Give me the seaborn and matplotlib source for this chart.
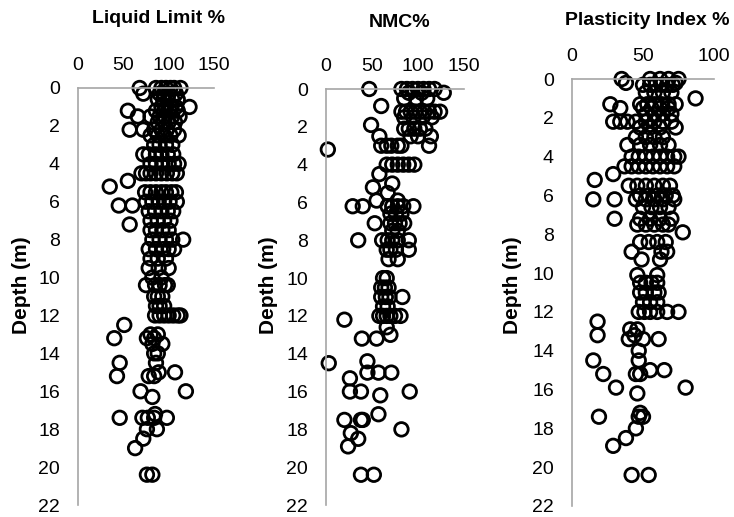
import matplotlib
matplotlib.use("Agg")
import matplotlib.pyplot as plt
import pandas as pd
import seaborn as sns

# depth levels (m) and the values read at each level
ll_depth = [0.0, 0.3, 0.6, 1.0, 1.2, 1.5, 1.8, 2.2, 2.5, 3.0, 3.5, 4.0, 4.5, 4.9,
            5.2, 5.5, 6.0, 6.2, 6.5, 7.0, 7.2, 7.5, 8.0, 8.5, 9.0, 9.5, 10.0, 10.4,
            11.0, 11.5, 12.0, 12.5, 13.0, 13.2, 13.5, 14.0, 14.5, 15.0, 15.2, 16.0,
            16.3, 17.2, 17.4, 18.0, 18.5, 19.0, 20.4]
ll_values = [[68, 86, 92, 97, 102, 106, 113], [72, 90, 95, 100, 108],
             [88, 94, 99, 104, 110], [92, 97, 103, 108, 123], [55, 86, 95, 101, 110],
             [66, 80, 90, 96, 104, 112], [88, 95, 100, 107], [57, 72, 84, 92, 98, 106],
             [80, 88, 95, 102, 111], [84, 90, 97, 104], [72, 78, 86, 92, 99, 105],
             [80, 86, 93, 100, 106, 111], [70, 75, 80, 86, 92, 98, 104, 109], [55],
             [35], [74, 80, 86, 92, 97, 103, 108], [75, 82, 89, 95, 101, 109], [45, 60],
             [78, 85, 92, 99, 105], [80, 88, 95, 102], [57], [80, 86, 93, 100],
             [82, 90, 97, 104, 116], [78, 86, 94, 100, 106], [80, 88, 97], [78, 89, 100],
             [82, 92], [75, 85, 90, 96, 99], [84, 88, 93], [86, 90, 95],
             [85, 90, 95, 100, 105, 110, 113], [51], [80, 88], [40, 76, 84], [82, 93],
             [84, 88], [46, 86], [89, 107], [43, 78, 84], [69, 119], [82], [85],
             [46, 71, 77, 84, 98], [76, 87], [72], [63], [76, 82]]

nmc_depth = [0.0, 0.2, 0.5, 0.9, 1.2, 1.5, 1.9, 2.1, 2.5, 3.0, 3.2, 4.0, 4.5, 5.0,
             5.2, 5.5, 5.9, 6.2, 6.6, 7.1, 7.5, 8.0, 8.5, 9.0, 10.0, 10.5, 11.0, 11.5,
             12.0, 12.2, 12.6, 13.0, 13.2, 14.4, 14.5, 15.0, 15.3, 16.0, 16.2, 17.2,
             17.5, 18.0, 18.2, 18.5, 18.9, 20.4]
nmc_values = [[47, 82, 88, 94, 100, 106, 112, 118], [90, 104, 128], [85, 98, 110], [60],
              [82, 87, 92, 97, 102, 107, 112, 118, 124], [85, 95, 105, 115], [49],
              [85, 90, 96, 102, 108], [58, 92, 100, 114], [60, 66, 71, 78, 82, 112], [2],
              [66, 72, 78, 84, 90, 96], [58], [72], [51], [67], [55, 78],
              [29, 40, 67, 72, 78, 84, 95], [70, 76, 82], [53, 70, 75, 80, 85], [72, 78],
              [35, 61, 67, 72, 78, 90], [66, 70, 76, 90], [68, 78], [62, 66], [60, 64, 68],
              [60, 65, 69, 83], [62, 67], [58, 62, 66, 70, 75, 81], [20], [66], [70],
              [39, 55], [45], [3], [45, 57, 71], [26], [26, 38, 91], [59], [57],
              [20, 38, 40], [82], [27], [35], [24], [38, 52]]

pi_depth = [0.0, 0.2, 0.3, 0.7, 1.0, 1.3, 1.5, 1.8, 2.2, 2.5, 3.0, 3.4, 4.0, 4.5, 4.9,
            5.2, 5.5, 6.0, 6.2, 6.6, 7.2, 7.5, 7.9, 8.4, 8.9, 9.3, 10.1, 10.5, 11.0,
            11.5, 12.0, 12.5, 12.9, 13.2, 13.4, 14.0, 14.5, 15.0, 15.2, 15.9, 16.2,
            17.2, 17.4, 18.0, 18.5, 18.9, 20.4]
pi_values = [[35, 55, 62, 68, 75], [38, 73], [50, 55, 59, 63, 67, 71], [52, 58, 64, 70],
             [87], [27, 48, 53, 58, 63, 68, 73], [34, 50, 56, 62, 68], [52, 58, 64, 70],
             [29, 34, 39, 45, 52, 58, 64, 70], [48, 55, 62, 73], [45, 52, 58, 64],
             [39, 48, 55, 62, 68], [42, 47, 52, 57, 62, 67, 72, 75],
             [37, 42, 47, 52, 57, 62, 67, 72], [29], [16], [40, 46, 52, 58, 64, 69],
             [48, 54, 60, 66, 71], [15, 30, 45, 52, 58, 64, 72], [50, 56, 62, 68],
             [30, 48, 55, 62, 70], [46, 52, 58, 64, 68], [78], [48, 54, 60, 66],
             [42, 63, 67], [49, 62], [46, 60], [48, 52, 56, 60], [48, 52, 58, 61],
             [50, 55, 60], [47, 51, 55, 60, 67, 75], [18], [41, 46], [18, 44],
             [40, 50, 61], [47], [15, 47], [55, 65], [22, 45, 48], [31, 80], [46], [48],
             [19, 47, 50], [45], [38], [29], [42, 54]]

titles = ["Liquid Limit %", "NMC%", "Plasticity Index %"]
x_ticks = [[0, 50, 100, 150], [0, 50, 100, 150], [0, 50, 100]]
depth_ticks = list(range(0, 23, 2))


def to_frame(depths, values):
    rows = [(d, v) for d, vals in zip(depths, values) for v in vals]
    return pd.DataFrame(rows, columns=["depth", "value"])


sns.set_style("white")
plt.rcParams["font.family"] = ["Liberation Sans", "DejaVu Sans"]
plt.rcParams["text.color"] = "black"

W, H = 734, 517
fig = plt.figure(figsize=(W / 100, H / 100), dpi=100)

# axes boxes in pixels: left, top, right, bottom
boxes = [(78, 88, 214, 505), (326, 89, 464, 505), (572, 79, 714, 506)]
title_pos = [(159, 23), (400, 27), (647, 25)]
ylabel_x = [22, 268, 513]

frames = [to_frame(ll_depth, ll_values), to_frame(nmc_depth, nmc_values),
          to_frame(pi_depth, pi_values)]

for i, df in enumerate(frames):
    l, t, r, b = boxes[i]
    ax = fig.add_axes([l / W, 1 - b / H, (r - l) / W, (b - t) / H])
    sns.scatterplot(data=df, x="value", y="depth", ax=ax, s=95,
                    facecolor="none", edgecolor="black", linewidth=2.0,
                    clip_on=False, legend=False)
    ax.set_xlim(0, x_ticks[i][-1])
    ax.set_ylim(22, 0)
    ax.set_xticks(x_ticks[i])
    ax.set_yticks(depth_ticks)
    ax.xaxis.tick_top()
    ax.tick_params(length=0, labelsize=14, colors="black")
    ax.tick_params(axis="x", pad=10)
    ax.tick_params(axis="y", pad=13)
    ax.set_xlabel("")
    ax.set_ylabel("")
    for side in ["right", "bottom"]:
        ax.spines[side].set_visible(False)
    for side in ["left", "top"]:
        ax.spines[side].set_color("#a6a6a6")
        ax.spines[side].set_linewidth(1.2)

    tx, ty = title_pos[i]
    fig.text(tx / W, 1 - ty / H, titles[i], ha="center", va="baseline",
             fontsize=14, fontweight="bold", color="black")
    fig.text(ylabel_x[i] / W, 1 - 285 / H, "Depth (m)", rotation=90,
             ha="center", va="center", fontsize=15, fontweight="bold",
             color="black")

fig.savefig("out.png", dpi=100)
